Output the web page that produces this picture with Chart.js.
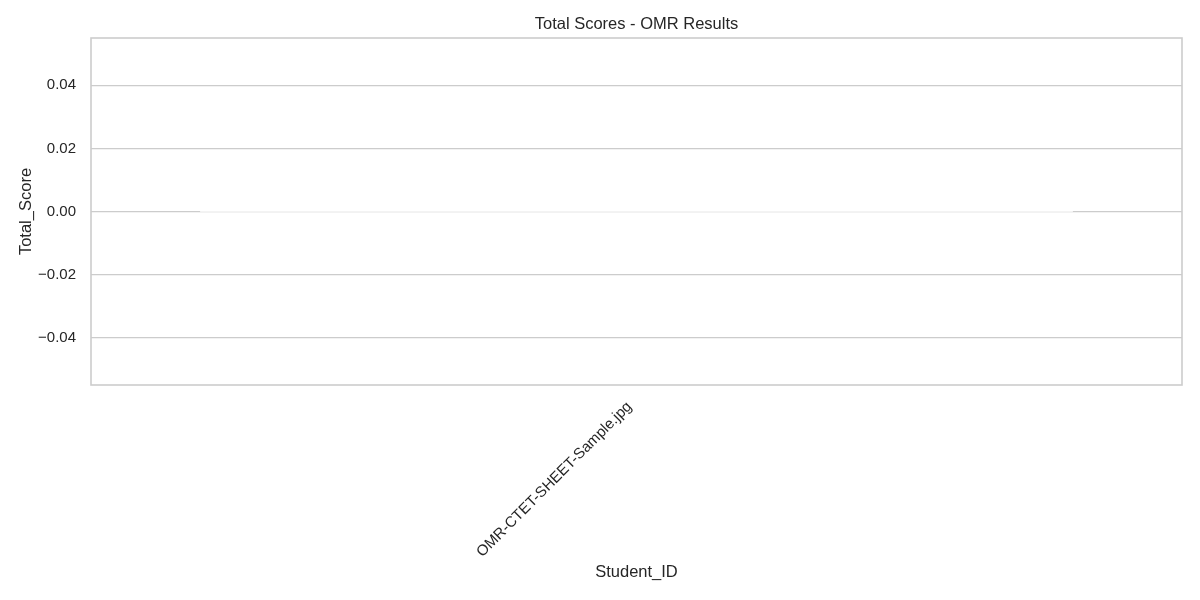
<!DOCTYPE html>
<html>
<head>
<meta charset="utf-8">
<script src="https://cdn.jsdelivr.net/npm/chart.js@4/dist/chart.umd.min.js"></script>
<style>
  html, body { margin: 0; padding: 0; background: #ffffff; }
  #wrap { width: 1200px; height: 600px; }
</style>
</head>
<body>
<div id="wrap"><canvas id="c" width="1200" height="600"></canvas></div>
<script>
const categories = ["OMR-CTET-SHEET-Sample.jpg"];
const totalScores = [0];
const yTicks = [-0.04, -0.02, 0.00, 0.02, 0.04];
const yMin = -0.055;
const yMax = 0.055;

const FONT = "'Liberation Sans', Arial, sans-serif";
const TEXT = "#262626";
const EDGE = "#cccccc";

const framePlugin = {
  id: 'frame',
  afterDatasetsDraw(chart) {
    const {ctx, chartArea: a} = chart;
    ctx.save();
    ctx.strokeStyle = EDGE;
    ctx.lineWidth = 1.6;
    ctx.strokeRect(a.left, a.top, a.right - a.left, a.bottom - a.top);
    ctx.restore();
  }
};

new Chart(document.getElementById('c'), {
  type: 'bar',
  data: {
    labels: categories,
    datasets: [{
      label: 'Total_Score',
      data: totalScores,
      backgroundColor: '#f3f3f3',
      borderWidth: 0,
      minBarLength: 1,
      barPercentage: 0.8,
      categoryPercentage: 1.0
    }]
  },
  options: {
    responsive: false,
    animation: false,
    devicePixelRatio: 1,
    layout: { padding: { left: 0, right: 18, top: 0, bottom: 0 } },
    plugins: {
      legend: { display: false },
      tooltip: { enabled: false },
      title: { display: false }
    },
    scales: {
      x: {
        grid: { display: false, drawTicks: false },
        border: { display: false },
        ticks: {
          color: TEXT,
          font: { family: FONT, size: 15 },
          minRotation: 45,
          maxRotation: 45,
          padding: 13,
          labelOffset: -7
        },
        title: {
          display: true,
          text: 'Student_ID',
          color: TEXT,
          font: { family: FONT, size: 16.5 },
          padding: { top: 0, bottom: 18 }
        },
        afterFit(scale) { scale.height = 215; }
      },
      x2: {
        type: 'category',
        position: 'top',
        grid: { display: false, drawTicks: false },
        border: { display: false },
        ticks: { display: false },
        title: {
          display: true,
          text: 'Total Scores - OMR Results',
          color: TEXT,
          font: { family: FONT, size: 16.5 },
          padding: { top: 15, bottom: 0 }
        },
        afterFit(scale) { scale.height = 38; }
      },
      y: {
        min: yMin,
        max: yMax,
        grid: { color: EDGE, lineWidth: 1.2, drawTicks: false },
        border: { display: false },
        afterBuildTicks(scale) { scale.ticks = yTicks.map(v => ({ value: v })); },
        ticks: {
          color: TEXT,
          font: { family: FONT, size: 15 },
          padding: 15,
          callback: (v) => Number(v).toFixed(2).replace('-', '\u2212')
        },
        title: {
          display: true,
          text: 'Total_Score',
          color: TEXT,
          font: { family: FONT, size: 16.5 },
          padding: { top: 17, bottom: 0 }
        },
        afterFit(scale) { scale.width = 91; }
      }
    }
  },
  plugins: [framePlugin]
});
</script>
</body>
</html>
